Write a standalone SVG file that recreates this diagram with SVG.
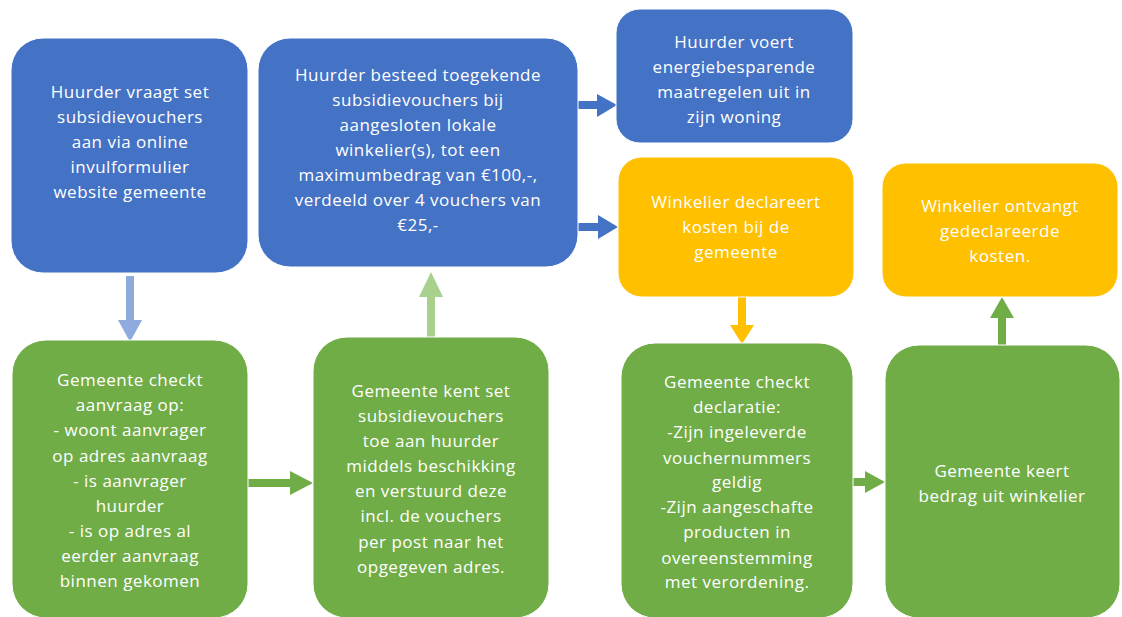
<svg xmlns="http://www.w3.org/2000/svg" width="1122" height="617" viewBox="0 0 1122 617">
<style>
.blue{fill:#4472C4;stroke:#ffffff;stroke-width:1}
.green{fill:#70AD47;stroke:#ffffff;stroke-width:1}
.yellow{fill:#FFC000;stroke:#ffffff;stroke-width:1}
text{font-family:"Open Sans","Noto Sans","Liberation Sans",sans-serif;font-size:17px;letter-spacing:0.5px;fill:#ffffff;text-anchor:middle}
</style>
<rect width="1122" height="617" fill="#ffffff"/>
<g id="connectors">
  <rect x="126" y="276" width="8" height="46" fill="#8FAADC"/>
  <polygon points="118,320 142,320 130,342" fill="#8FAADC"/>
  <rect x="248" y="479" width="44" height="8" fill="#70AD47"/>
  <polygon points="290,471 290,495 313,483" fill="#70AD47"/>
  <rect x="427" y="294" width="8" height="43" fill="#A9D18E"/>
  <polygon points="419,297 443,297 431,272" fill="#A9D18E"/>
  <rect x="578" y="101" width="21" height="8" fill="#4472C4"/>
  <polygon points="597,94 597,117 617,105" fill="#4472C4"/>
  <rect x="578" y="223" width="22" height="8" fill="#4472C4"/>
  <polygon points="598,215 598,239 618,227" fill="#4472C4"/>
  <rect x="738" y="297" width="8" height="30" fill="#FFC000"/>
  <polygon points="730,325 754,325 742,344" fill="#FFC000"/>
  <rect x="853" y="478" width="14" height="8" fill="#70AD47"/>
  <polygon points="865,471 865,493 885,482" fill="#70AD47"/>
  <rect x="998" y="316" width="8" height="30" fill="#70AD47"/>
  <polygon points="990,318 1014,318 1002,297" fill="#70AD47"/>
</g>
<g id="n1">
  <rect class="blue" x="11" y="38" width="237" height="235" rx="32"/>
  <text x="130" y="98">Huurder vraagt set</text>
  <text x="130" y="123">subsidievouchers</text>
  <text x="130" y="148">aan via online</text>
  <text x="130" y="173">invulformulier</text>
  <text x="130" y="198">website gemeente</text>
</g>
<g id="n2">
  <rect class="blue" x="258" y="38" width="320" height="229" rx="32"/>
  <text x="418" y="81">Huurder besteed toegekende</text>
  <text x="418" y="106">subsidievouchers bij</text>
  <text x="418" y="131">aangesloten lokale</text>
  <text x="418" y="156">winkelier(s), tot een</text>
  <text x="418" y="181">maximumbedrag van €100,-,</text>
  <text x="418" y="206">verdeeld over 4 vouchers van</text>
  <text x="418" y="231">€25,-</text>
</g>
<g id="n3">
  <rect class="blue" x="616" y="9" width="237" height="134" rx="24"/>
  <text x="734" y="48">Huurder voert</text>
  <text x="734" y="73">energiebesparende</text>
  <text x="734" y="98">maatregelen uit in</text>
  <text x="734" y="123">zijn woning</text>
</g>
<g id="n4">
  <rect class="yellow" x="618" y="157" width="236" height="140" rx="24"/>
  <text x="736" y="208">Winkelier declareert</text>
  <text x="736" y="233">kosten bij de</text>
  <text x="736" y="258">gemeente</text>
</g>
<g id="n5">
  <rect class="yellow" x="882" y="163" width="236" height="134" rx="24"/>
  <text x="1000" y="212">Winkelier ontvangt</text>
  <text x="1000" y="237">gedeclareerde</text>
  <text x="1000" y="262">kosten.</text>
</g>
<g id="n6">
  <rect class="green" x="12" y="340" width="236" height="278" rx="34"/>
  <text x="130" y="386">Gemeente checkt</text>
  <text x="130" y="411">aanvraag op:</text>
  <text x="130" y="436">- woont aanvrager</text>
  <text x="130" y="462">op adres aanvraag</text>
  <text x="130" y="487">- is aanvrager</text>
  <text x="130" y="512">huurder</text>
  <text x="130" y="537">- is op adres al</text>
  <text x="130" y="562">eerder aanvraag</text>
  <text x="130" y="587">binnen gekomen</text>
</g>
<g id="n7">
  <rect class="green" x="313" y="337" width="236" height="281" rx="34"/>
  <text x="431" y="397">Gemeente kent set</text>
  <text x="431" y="422">subsidievouchers</text>
  <text x="431" y="447">toe aan huurder</text>
  <text x="431" y="472">middels beschikking</text>
  <text x="431" y="497">en verstuurd deze</text>
  <text x="431" y="522">incl. de vouchers</text>
  <text x="431" y="548">per post naar het</text>
  <text x="431" y="573">opgegeven adres.</text>
</g>
<g id="n8">
  <rect class="green" x="621" y="343" width="232" height="275" rx="34"/>
  <text x="737" y="388">Gemeente checkt</text>
  <text x="737" y="413">declaratie:</text>
  <text x="737" y="438">-Zijn ingeleverde</text>
  <text x="737" y="464">vouchernummers</text>
  <text x="737" y="488">geldig</text>
  <text x="737" y="513">-Zijn aangeschafte</text>
  <text x="737" y="538">producten in</text>
  <text x="737" y="564">overeenstemming</text>
  <text x="737" y="588">met verordening.</text>
</g>
<g id="n9">
  <rect class="green" x="885" y="345" width="235" height="273" rx="34"/>
  <text x="1002" y="477">Gemeente keert</text>
  <text x="1002" y="502">bedrag uit winkelier</text>
</g>
</svg>
